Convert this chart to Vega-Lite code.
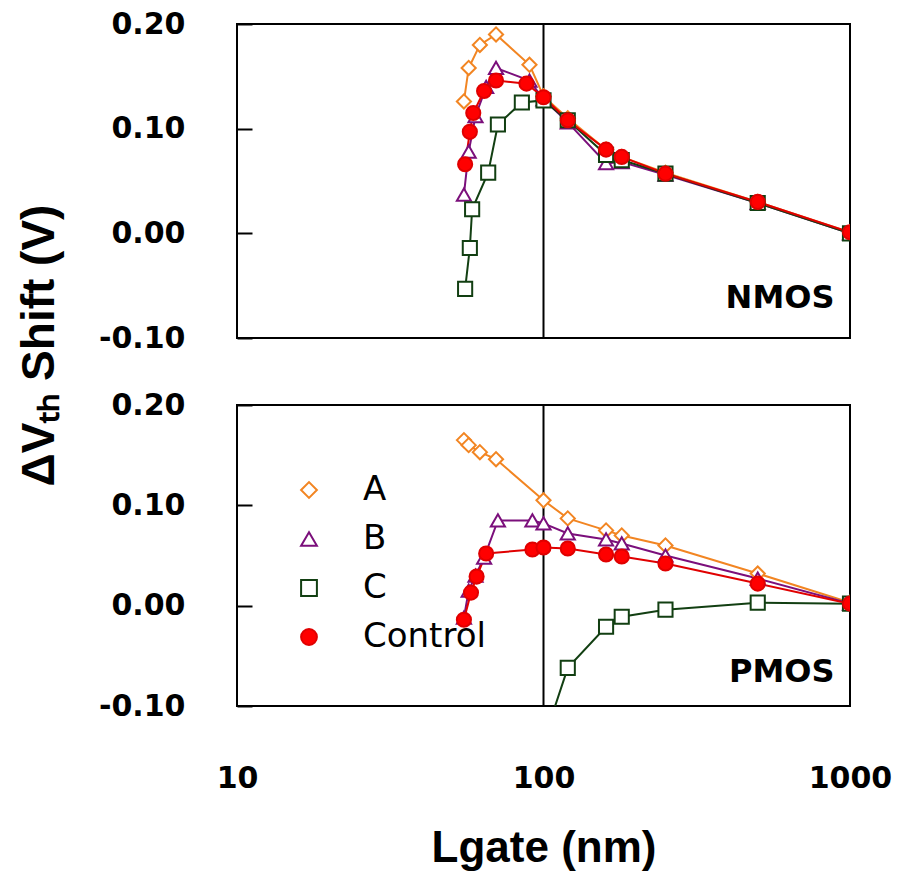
{
  "$schema": "https://vega.github.io/schema/vega-lite/v6.json",
  "background": "white",
  "padding": {"left": 15, "top": 8, "right": 10, "bottom": 5},
  "config": {
    "view": {"stroke": "#000", "strokeWidth": 2},
    "axis": {"grid": false, "domain": false, "labelColor": "#000", "titleColor": "#000", "labelFlush": false, "labelOverlap": false},
    "legend": {"title": null, "orient": "none", "legendX": 55, "legendY": 68, "padding": 0, "symbolSize": 250, "symbolStrokeWidth": 2, "labelFont": "DejaVu Sans", "labelFontSize": 34, "labelColor": "#000", "labelOffset": 37, "rowPadding": 15}
  },
  "datasets": {
    "notes": [{"panel": "NMOS", "label": "NMOS"}, {"panel": "PMOS", "label": "PMOS"}],
    "pts": [
      {"panel": "NMOS", "series": "A", "L": 55, "v": 0.126},
      {"panel": "NMOS", "series": "A", "L": 57, "v": 0.158},
      {"panel": "NMOS", "series": "A", "L": 62, "v": 0.180},
      {"panel": "NMOS", "series": "A", "L": 70, "v": 0.190},
      {"panel": "NMOS", "series": "A", "L": 90, "v": 0.161},
      {"panel": "NMOS", "series": "A", "L": 100, "v": 0.131},
      {"panel": "NMOS", "series": "A", "L": 120, "v": 0.110},
      {"panel": "NMOS", "series": "A", "L": 160, "v": 0.080},
      {"panel": "NMOS", "series": "A", "L": 180, "v": 0.073},
      {"panel": "NMOS", "series": "A", "L": 250, "v": 0.058},
      {"panel": "NMOS", "series": "A", "L": 500, "v": 0.030},
      {"panel": "NMOS", "series": "A", "L": 1000, "v": 0.001},
      {"panel": "NMOS", "series": "B", "L": 55, "v": 0.037},
      {"panel": "NMOS", "series": "B", "L": 57, "v": 0.078},
      {"panel": "NMOS", "series": "B", "L": 60, "v": 0.112},
      {"panel": "NMOS", "series": "B", "L": 65, "v": 0.140},
      {"panel": "NMOS", "series": "B", "L": 70, "v": 0.158},
      {"panel": "NMOS", "series": "B", "L": 90, "v": 0.146},
      {"panel": "NMOS", "series": "B", "L": 100, "v": 0.128},
      {"panel": "NMOS", "series": "B", "L": 120, "v": 0.106},
      {"panel": "NMOS", "series": "B", "L": 160, "v": 0.067},
      {"panel": "NMOS", "series": "B", "L": 180, "v": 0.068},
      {"panel": "NMOS", "series": "B", "L": 250, "v": 0.056},
      {"panel": "NMOS", "series": "B", "L": 500, "v": 0.029},
      {"panel": "NMOS", "series": "B", "L": 1000, "v": 0.000},
      {"panel": "NMOS", "series": "C", "L": 55.5, "v": -0.053},
      {"panel": "NMOS", "series": "C", "L": 57.5, "v": -0.014},
      {"panel": "NMOS", "series": "C", "L": 58.5, "v": 0.023},
      {"panel": "NMOS", "series": "C", "L": 66, "v": 0.058},
      {"panel": "NMOS", "series": "C", "L": 71, "v": 0.104},
      {"panel": "NMOS", "series": "C", "L": 85, "v": 0.125},
      {"panel": "NMOS", "series": "C", "L": 100, "v": 0.127},
      {"panel": "NMOS", "series": "C", "L": 120, "v": 0.108},
      {"panel": "NMOS", "series": "C", "L": 160, "v": 0.075},
      {"panel": "NMOS", "series": "C", "L": 180, "v": 0.070},
      {"panel": "NMOS", "series": "C", "L": 250, "v": 0.057},
      {"panel": "NMOS", "series": "C", "L": 500, "v": 0.029},
      {"panel": "NMOS", "series": "C", "L": 1000, "v": 0.000},
      {"panel": "NMOS", "series": "Control", "L": 55.5, "v": 0.066},
      {"panel": "NMOS", "series": "Control", "L": 57.5, "v": 0.097},
      {"panel": "NMOS", "series": "Control", "L": 59, "v": 0.115},
      {"panel": "NMOS", "series": "Control", "L": 64, "v": 0.136},
      {"panel": "NMOS", "series": "Control", "L": 70, "v": 0.146},
      {"panel": "NMOS", "series": "Control", "L": 88, "v": 0.143},
      {"panel": "NMOS", "series": "Control", "L": 100, "v": 0.130},
      {"panel": "NMOS", "series": "Control", "L": 120, "v": 0.108},
      {"panel": "NMOS", "series": "Control", "L": 160, "v": 0.080},
      {"panel": "NMOS", "series": "Control", "L": 180, "v": 0.073},
      {"panel": "NMOS", "series": "Control", "L": 250, "v": 0.057},
      {"panel": "NMOS", "series": "Control", "L": 500, "v": 0.030},
      {"panel": "NMOS", "series": "Control", "L": 1000, "v": 0.001},
      {"panel": "PMOS", "series": "A", "L": 55, "v": 0.165},
      {"panel": "PMOS", "series": "A", "L": 57, "v": 0.160},
      {"panel": "PMOS", "series": "A", "L": 62, "v": 0.153},
      {"panel": "PMOS", "series": "A", "L": 70, "v": 0.146},
      {"panel": "PMOS", "series": "A", "L": 100, "v": 0.105},
      {"panel": "PMOS", "series": "A", "L": 120, "v": 0.087},
      {"panel": "PMOS", "series": "A", "L": 160, "v": 0.075},
      {"panel": "PMOS", "series": "A", "L": 180, "v": 0.070},
      {"panel": "PMOS", "series": "A", "L": 250, "v": 0.060},
      {"panel": "PMOS", "series": "A", "L": 500, "v": 0.032},
      {"panel": "PMOS", "series": "A", "L": 1000, "v": 0.003},
      {"panel": "PMOS", "series": "B", "L": 55, "v": -0.012},
      {"panel": "PMOS", "series": "B", "L": 57, "v": 0.015},
      {"panel": "PMOS", "series": "B", "L": 60, "v": 0.030},
      {"panel": "PMOS", "series": "B", "L": 64, "v": 0.048},
      {"panel": "PMOS", "series": "B", "L": 71, "v": 0.085},
      {"panel": "PMOS", "series": "B", "L": 92, "v": 0.085},
      {"panel": "PMOS", "series": "B", "L": 100, "v": 0.082},
      {"panel": "PMOS", "series": "B", "L": 120, "v": 0.072},
      {"panel": "PMOS", "series": "B", "L": 160, "v": 0.066},
      {"panel": "PMOS", "series": "B", "L": 180, "v": 0.062},
      {"panel": "PMOS", "series": "B", "L": 250, "v": 0.050},
      {"panel": "PMOS", "series": "B", "L": 500, "v": 0.027},
      {"panel": "PMOS", "series": "B", "L": 1000, "v": 0.002},
      {"panel": "PMOS", "series": "C", "L": 100, "v": -0.135},
      {"panel": "PMOS", "series": "C", "L": 120, "v": -0.062},
      {"panel": "PMOS", "series": "C", "L": 160, "v": -0.021},
      {"panel": "PMOS", "series": "C", "L": 180, "v": -0.011},
      {"panel": "PMOS", "series": "C", "L": 250, "v": -0.004},
      {"panel": "PMOS", "series": "C", "L": 500, "v": 0.003},
      {"panel": "PMOS", "series": "C", "L": 1000, "v": 0.002},
      {"panel": "PMOS", "series": "Control", "L": 55, "v": -0.014},
      {"panel": "PMOS", "series": "Control", "L": 58, "v": 0.013},
      {"panel": "PMOS", "series": "Control", "L": 60.5, "v": 0.029},
      {"panel": "PMOS", "series": "Control", "L": 65, "v": 0.052},
      {"panel": "PMOS", "series": "Control", "L": 92, "v": 0.056},
      {"panel": "PMOS", "series": "Control", "L": 100, "v": 0.058},
      {"panel": "PMOS", "series": "Control", "L": 120, "v": 0.057},
      {"panel": "PMOS", "series": "Control", "L": 160, "v": 0.051},
      {"panel": "PMOS", "series": "Control", "L": 180, "v": 0.049},
      {"panel": "PMOS", "series": "Control", "L": 250, "v": 0.042},
      {"panel": "PMOS", "series": "Control", "L": 500, "v": 0.022},
      {"panel": "PMOS", "series": "Control", "L": 1000, "v": 0.002}
    ]
  },
  "spacing": 67,
  "bounds": "flush",
  "resolve": {
    "scale": {"stroke": "independent", "fill": "independent", "shape": "independent"},
    "legend": {"stroke": "independent", "fill": "independent", "shape": "independent"}
  },
  "vconcat": [
    {
      "width": 613,
      "height": 314,
      "layer": [
        {
          "data": {"values": [{}]},
          "mark": {"type": "rule", "color": "#000", "strokeWidth": 2},
          "encoding": {
            "x": {"datum": 100, "type": "quantitative", "scale": {"type": "log", "domain": [10, 1000], "nice": false}, "axis": null},
            "y": {"datum": -0.1, "type": "quantitative", "scale": {"domain": [-0.1, 0.2], "nice": false, "zero": false},
              "axis": {"values": [-0.1, 0, 0.1, 0.2], "labelExpr": "replace(format(datum.value, '.2f'), '\u2212', '-')", "title": null, "ticks": true, "tickSize": -15, "tickColor": "#000", "tickWidth": 2, "labelFont": "DejaVu Sans", "labelFontWeight": "bold", "labelFontSize": 30, "labelPadding": 67, "labelBaseline": "middle"}},
            "y2": {"datum": 0.2}
          }
        },
        {
          "data": {"name": "pts"},
          "transform": [{"filter": "datum.panel === 'NMOS'"}],
          "mark": {"type": "line", "strokeWidth": 2, "clip": true},
          "encoding": {
            "x": {"field": "L", "type": "quantitative"},
            "y": {"field": "v", "type": "quantitative"},
            "stroke": {"field": "series", "type": "nominal", "scale": {"domain": ["A", "B", "C", "Control"], "range": ["#F28522", "#7B0F7B", "#123F12", "#E00000"]}, "legend": null}
          }
        },
        {
          "data": {"name": "pts"},
          "transform": [{"filter": "datum.panel === 'NMOS'"}],
          "mark": {"type": "point", "filled": true, "size": 200, "strokeWidth": 2, "opacity": 1, "clip": true},
          "encoding": {
            "x": {"field": "L", "type": "quantitative"},
            "y": {"field": "v", "type": "quantitative"},
            "stroke": {"field": "series", "type": "nominal", "scale": {"domain": ["A", "B", "C", "Control"], "range": ["#F28522", "#7B0F7B", "#123F12", "#E00000"]}, "legend": null},
            "fill": {"field": "series", "type": "nominal", "scale": {"domain": ["A", "B", "C", "Control"], "range": ["#FFFFFF", "#FFFFFF", "#FFFFFF", "#FF0000"]}, "legend": null},
            "shape": {"field": "series", "type": "nominal", "scale": {"domain": ["A", "B", "C", "Control"], "range": ["diamond", "triangle-up", "square", "circle"]}, "legend": null}
          }
        },
        {
          "data": {"name": "notes"},
          "transform": [{"filter": "datum.panel === 'NMOS'"}],
          "mark": {"type": "text", "align": "right", "baseline": "middle", "font": "DejaVu Sans", "fontWeight": "bold", "fontSize": 32, "fill": "#000"},
          "encoding": {
            "x": {"datum": 890, "type": "quantitative"},
            "y": {"datum": -0.062, "type": "quantitative"},
            "text": {"field": "label", "type": "nominal"}
          }
        }
      ]
    },
    {
      "width": 613,
      "height": 301,
      "layer": [
        {
          "data": {"values": [{}]},
          "mark": {"type": "rule", "color": "#000", "strokeWidth": 2},
          "encoding": {
            "x": {"datum": 100, "type": "quantitative", "scale": {"type": "log", "domain": [10, 1000], "nice": false},
              "axis": {"values": [10, 100, 1000], "format": "d", "title": "Lgate (nm)", "ticks": false, "labelFont": "DejaVu Sans", "labelFontWeight": "bold", "labelFontSize": 30, "labelPadding": 57, "titleFont": "Liberation Sans", "titleFontSize": 44, "titleFontWeight": "bold", "titlePadding": 33}},
            "y": {"datum": -0.1, "type": "quantitative", "scale": {"domain": [-0.1, 0.2], "nice": false, "zero": false},
              "axis": {"values": [-0.1, 0, 0.1, 0.2], "labelExpr": "replace(format(datum.value, '.2f'), '\u2212', '-')", "title": "\u0394V\u209c\u2095 Shift (V)", "ticks": true, "tickSize": -15, "tickColor": "#000", "tickWidth": 2, "labelFont": "DejaVu Sans", "labelFontWeight": "bold", "labelFontSize": 30, "labelPadding": 67, "labelBaseline": "middle", "titleFont": "Liberation Sans", "titleFontSize": 46, "titleFontWeight": "bold", "titlePadding": 35, "titleY": -60}},
            "y2": {"datum": 0.2}
          }
        },
        {
          "data": {"name": "pts"},
          "transform": [{"filter": "datum.panel === 'PMOS'"}],
          "mark": {"type": "line", "strokeWidth": 2, "clip": true},
          "encoding": {
            "x": {"field": "L", "type": "quantitative"},
            "y": {"field": "v", "type": "quantitative"},
            "stroke": {"field": "series", "type": "nominal", "scale": {"domain": ["A", "B", "C", "Control"], "range": ["#F28522", "#7B0F7B", "#123F12", "#E00000"]}}
          }
        },
        {
          "data": {"name": "pts"},
          "transform": [{"filter": "datum.panel === 'PMOS'"}],
          "mark": {"type": "point", "filled": true, "size": 200, "strokeWidth": 2, "opacity": 1, "clip": true},
          "encoding": {
            "x": {"field": "L", "type": "quantitative"},
            "y": {"field": "v", "type": "quantitative"},
            "stroke": {"field": "series", "type": "nominal", "scale": {"domain": ["A", "B", "C", "Control"], "range": ["#F28522", "#7B0F7B", "#123F12", "#E00000"]}},
            "fill": {"field": "series", "type": "nominal", "scale": {"domain": ["A", "B", "C", "Control"], "range": ["#FFFFFF", "#FFFFFF", "#FFFFFF", "#FF0000"]}},
            "shape": {"field": "series", "type": "nominal", "scale": {"domain": ["A", "B", "C", "Control"], "range": ["diamond", "triangle-up", "square", "circle"]}}
          }
        },
        {
          "data": {"name": "notes"},
          "transform": [{"filter": "datum.panel === 'PMOS'"}],
          "mark": {"type": "text", "align": "right", "baseline": "middle", "font": "DejaVu Sans", "fontWeight": "bold", "fontSize": 32, "fill": "#000"},
          "encoding": {
            "x": {"datum": 890, "type": "quantitative"},
            "y": {"datum": -0.066, "type": "quantitative"},
            "text": {"field": "label", "type": "nominal"}
          }
        }
      ]
    }
  ]
}
